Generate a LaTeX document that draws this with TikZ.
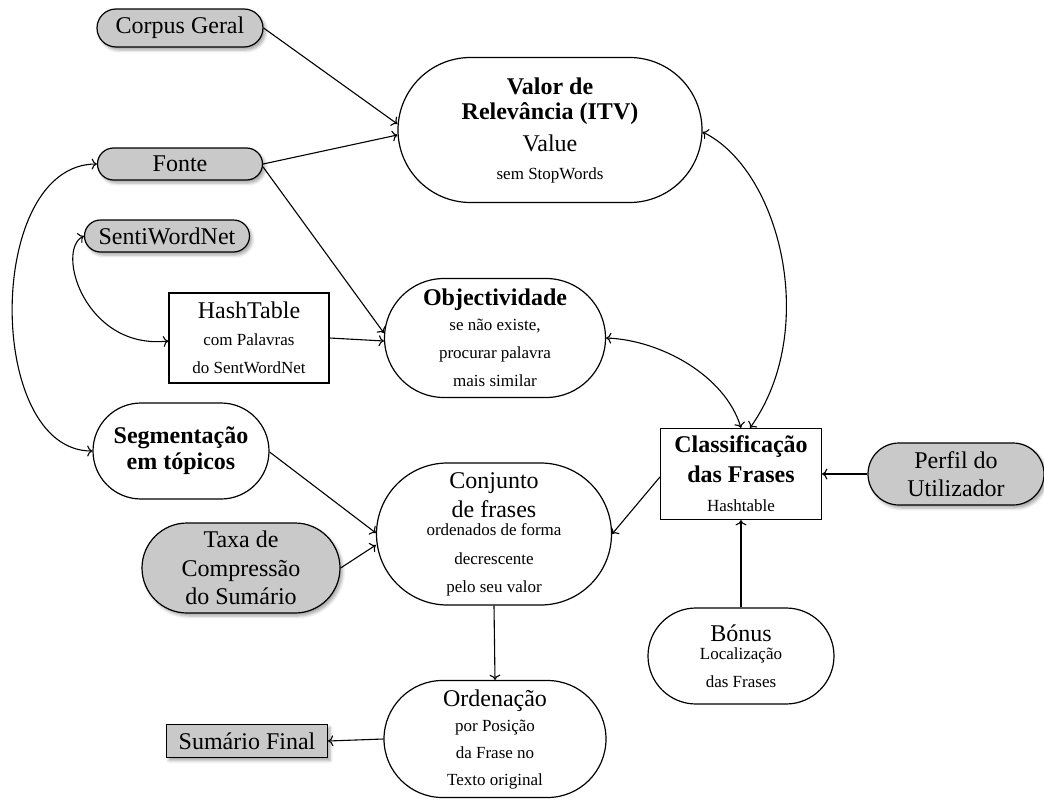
\documentclass[tikz,border=0pt]{standalone}
\usepackage{fontspec}
\setmainfont{Liberation Serif}
\usetikzlibrary{shadows,shadows.blur,arrows.meta,calc}
\newcommand\smtxt{\fontsize{17}{28}\selectfont}
\begin{document}
\begin{tikzpicture}[x=1pt,y=-1pt,
  base/.style={draw, line width=1.2pt, align=center, inner sep=0pt, font=\fontsize{24}{28}\selectfont},
  pill/.style={base},
  shade/.style={fill=black!21, blur shadow={shadow xshift=2.5pt, shadow yshift=-3pt, shadow blur radius=3pt, shadow opacity=35}},
  boxnode/.style={base},
  conn/.style={line width=1.1pt, -{To[scale=1.3]}},
  bidir/.style={line width=1.1pt, {To[scale=1.3]}-{To[scale=1.3]}}]
\useasboundingbox (0,0) rectangle (1044,803);

\node[pill, shade, minimum width=166pt, minimum height=38pt, rounded corners=19pt] (corpus) at (180,28) {Corpus Geral};
\node[pill, minimum width=304pt, minimum height=145pt, rounded corners=72.5pt] (valor) at (550,130)
  {\bfseries Valor de\\[-3pt]\bfseries Relevância (ITV)\\[4pt]Value\\\smtxt sem StopWords};
\node[pill, shade, minimum width=165pt, minimum height=32pt, rounded corners=16pt] (fonte) at (180,164) {Fonte};
\node[pill, shade, minimum width=165pt, minimum height=32pt, rounded corners=16pt] (senti) at (167,236) {SentiWordNet};
\node[boxnode, minimum width=160pt, minimum height=90pt] (hash) at (249,338)
  {HashTable\\[-1pt]\smtxt com Palavras\\\smtxt do SentWordNet};
\node[pill, minimum width=221pt, minimum height=119pt, rounded corners=59.5pt] (obj) at (495,338)
  {\bfseries Objectividade\\[-3pt]\smtxt se não existe,\\\smtxt procurar palavra\\\smtxt mais similar};
\node[pill, minimum width=176pt, minimum height=96pt, rounded corners=48pt] (segm) at (181,451)
  {\bfseries Segmentação\\[-2pt]\bfseries em tópicos};
\node[boxnode, minimum width=161pt, minimum height=91pt] (class) at (741,474)
  {\bfseries Classificação\\[2pt]\bfseries das Frases\\[1pt]\smtxt Hashtable};
\node[pill, shade, minimum width=176pt, minimum height=62pt, rounded corners=31pt] (perfil) at (956,474)
  {Perfil do\\Utilizador};
\node[pill, minimum width=235pt, minimum height=142pt, rounded corners=71pt] (conj) at (494,534)
  {Conjunto\\[1pt]de frases\\[-10pt]\smtxt ordenados de forma\\[1pt]\smtxt decrescente\\\smtxt pelo seu valor};
\node[pill, shade, minimum width=198pt, minimum height=90pt, rounded corners=45pt] (taxa) at (241,568)
  {Taxa de\\[1pt]Compressão\\do Sumário};
\node[pill, minimum width=186pt, minimum height=96pt, rounded corners=48pt] (bonus) at (741,656)
  {Bónus\\[-10pt]\smtxt Localização\\\smtxt das Frases};
\node[pill, minimum width=222pt, minimum height=117pt, rounded corners=58.5pt] (ord) at (495,739)
  {Ordenação\\[-3pt]\smtxt por Posição\\[-1pt]\smtxt da Frase no\\[-1pt]\smtxt Texto original};
\node[boxnode, shade, minimum width=161pt, minimum height=33pt] (sumario) at (247,741) {Sumário Final};

\draw[conn] (corpus.east) -- ($(valor.west)+(0,-6)$);
\draw[conn] (fonte.east) -- ($(valor.west)+(0,5)$);
\draw[conn] ($(fonte.east)+(0,3)$) -- ($(obj.west)+(0,-5)$);
\draw[conn] (hash.east) -- ($(obj.west)+(0,3)$);
\draw[bidir] (fonte.west) .. controls (-15,164) and (-15,451) .. (segm.west);
\draw[bidir] (senti.west) .. controls (55,250) and (85,350) .. ($(hash.west)+(0,3)$);
\draw[bidir] ($(valor.east)+(0,2)$) .. controls (780,170) and (820,330) .. ($(class.north)+(9,0)$);
\draw[bidir] (obj.east) .. controls (660,340) and (725,375) .. (class.north);
\draw[conn] (perfil.west) -- (class.east);
\draw[conn] (bonus.north) -- (class.south);
\draw[conn] ($(class.west)+(0,3)$) -- (conj.east);
\draw[conn] ($(segm.east)+(0,1)$) -- ($(conj.west)+(0,-1)$);
\draw[conn] (taxa.east) -- ($(conj.west)+(0,11)$);
\draw[conn] (conj.south) -- (ord.north);
\draw[conn] (ord.west) -- (sumario.east);
\end{tikzpicture}
\end{document}
